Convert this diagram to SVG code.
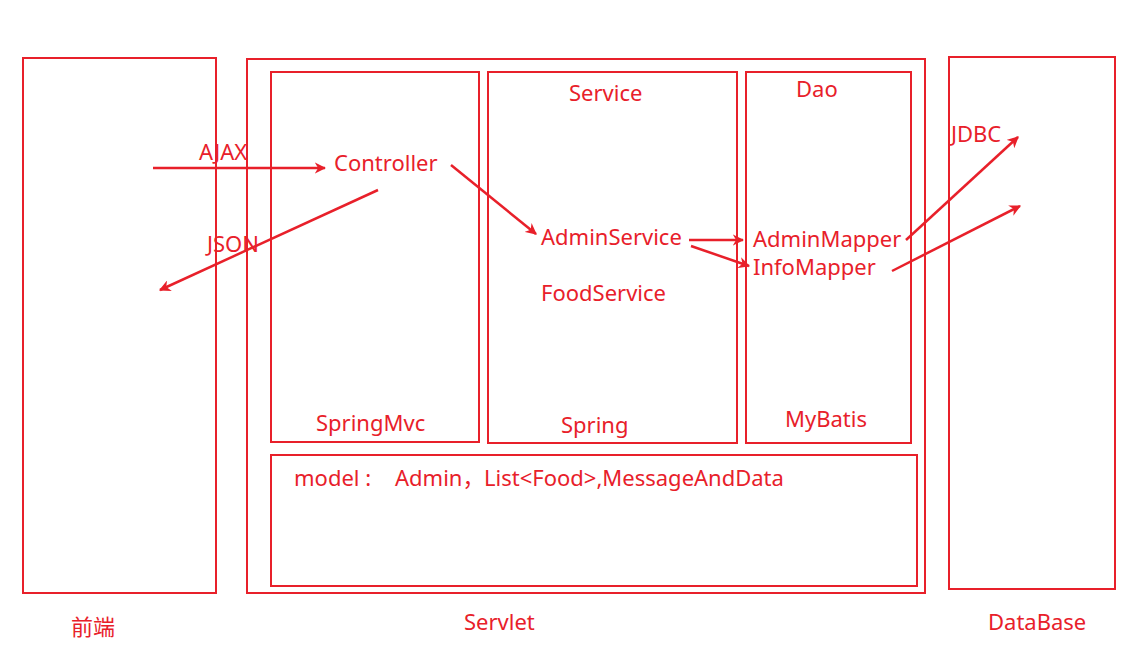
<svg xmlns="http://www.w3.org/2000/svg" width="1132" height="656" viewBox="0 0 1132 656">
<defs>
<style>
.b{fill:none;stroke:#e8202a;stroke-width:2}
.t{fill:#e8202a;font-family:"Noto Sans","Noto Sans CJK SC",sans-serif;font-size:22px}
.c{stroke:#e8202a;stroke-width:2.5;fill:none}
</style>
<marker id="ah" viewBox="0 0 10 10" refX="9" refY="5" markerWidth="4.6" markerHeight="4.6" orient="auto" markerUnits="strokeWidth">
<path d="M0,0 L10,5 L0,10 L3,5 Z" fill="#e8202a"/>
</marker>
</defs>
<rect width="1132" height="656" fill="#fff"/>
<g id="frontend">
<rect class="b" x="23" y="58" width="193" height="535"/>
<text class="t" x="71" y="635">前端</text>
</g>
<g id="servlet">
<rect class="b" x="247" y="59" width="678" height="534"/>
<text class="t" x="464" y="630">Servlet</text>
</g>
<g id="springmvc">
<rect class="b" x="271" y="72" width="208" height="370"/>
<text class="t" x="334" y="171">Controller</text>
<text class="t" x="316" y="431">SpringMvc</text>
</g>
<g id="service">
<rect class="b" x="488" y="72" width="249" height="371"/>
<text class="t" x="569" y="101">Service</text>
<text class="t" x="541" y="245">AdminService</text>
<text class="t" x="541" y="301">FoodService</text>
<text class="t" x="561" y="433">Spring</text>
</g>
<g id="dao">
<rect class="b" x="746" y="72" width="165" height="371"/>
<text class="t" x="796" y="97">Dao</text>
<text class="t" x="753" y="247">AdminMapper</text>
<text class="t" x="753" y="275">InfoMapper</text>
<text class="t" x="785" y="427">MyBatis</text>
</g>
<g id="model">
<rect class="b" x="271" y="455" width="646" height="131"/>
<text class="t" y="486"><tspan x="294">model :</tspan><tspan x="395">Admin，</tspan><tspan x="484">List&lt;Food&gt;,MessageAndData</tspan></text>
</g>
<g id="database">
<rect class="b" x="949" y="57" width="166" height="532"/>
<text class="t" x="988" y="630">DataBase</text>
</g>
<g id="connectors">
<line class="c" x1="153" y1="168" x2="325" y2="168" marker-end="url(#ah)"/>
<text class="t" x="199" y="160">AJAX</text>
<line class="c" x1="378" y1="190" x2="160" y2="290" marker-end="url(#ah)"/>
<text class="t" x="207" y="252">JSON</text>
<line class="c" x1="451" y1="165" x2="536" y2="234" marker-end="url(#ah)"/>
<line class="c" x1="689" y1="240" x2="743" y2="240" marker-end="url(#ah)"/>
<line class="c" x1="691" y1="246" x2="749" y2="266" marker-end="url(#ah)"/>
<line class="c" x1="906" y1="240" x2="1018" y2="137" marker-end="url(#ah)"/>
<text class="t" x="951" y="142">JDBC</text>
<line class="c" x1="892" y1="271" x2="1020" y2="206" marker-end="url(#ah)"/>
</g>
</svg>
